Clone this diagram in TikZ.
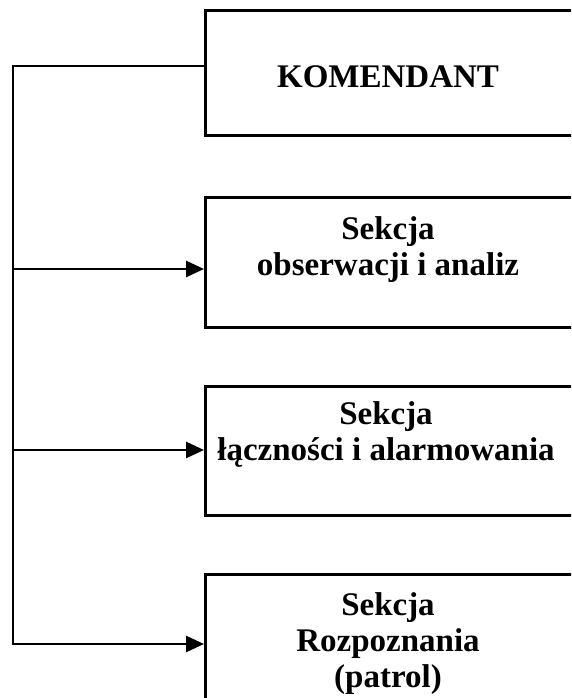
\documentclass[tikz,border=0pt]{standalone}
\usepackage{fontspec}
\setmainfont{Liberation Serif}
\usetikzlibrary{arrows.meta}
\begin{document}
\begin{tikzpicture}[x=1pt,y=1pt,
  box/.style={draw=black, line width=2.8pt, rectangle, anchor=south west, inner sep=0pt, minimum width=386pt},
  lbl/.style={font=\fontsize{33}{36}\selectfont\bfseries, align=center, inner sep=0pt},
  conn/.style={line width=2.8pt},
  arr/.style={conn, -{Triangle[length=18pt,width=16pt]}}]
\useasboundingbox (0,0) rectangle (571,698);
\clip (0,0) rectangle (571,698);
\node[box, minimum height=125pt] (b1) at (204,561) {};
\node[box, minimum height=130pt] (b2) at (204,369) {};
\node[box, minimum height=129pt] (b3) at (204,181) {};
\node[box, minimum height=144pt] (b4) at (204,-22) {};
\node[lbl] (t1) at (388,621) {KOMENDANT};
\node[lbl] (t2) at (388,448) {Sekcja\\obserwacji i analiz};
\node[lbl] (t3) at (386,263) {Sekcja\\łączności i alarmowania};
\node[lbl] (t4) at (388,54) {Sekcja\\Rozpoznania\\(patrol)};
\coordinate (top) at (13,632);
\coordinate (bot) at (13,54);
\draw[conn, line cap=rect] (b1.west |- top) -- (top) -- (bot);
\draw[arr] (top |- 0,429) -- (b2.west |- 0,429);
\draw[arr] (top |- 0,248) -- (b3.west |- 0,248);
\draw[arr] (bot) -- (b4.west |- bot);
\end{tikzpicture}
\end{document}
